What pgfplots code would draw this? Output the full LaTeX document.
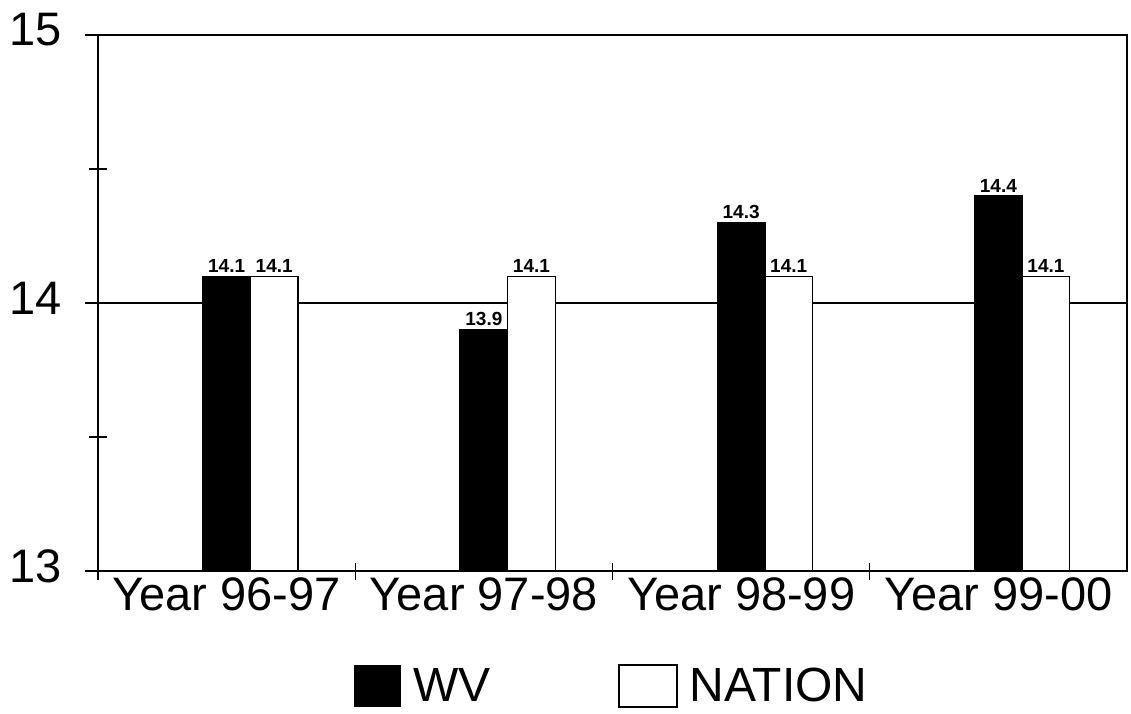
\documentclass[border=0pt]{standalone}
\usepackage{pgfplots}
\pgfplotsset{compat=1.18}
\usepackage{fontspec}
\setmainfont{Liberation Sans}

\begin{document}
\begin{tikzpicture}
\begin{axis}[
  scale only axis, width=514.5pt, height=268pt,
  xmin=-0.5, xmax=3.5, ymin=13, ymax=15,
  ybar, bar width=0.185,
  axis line style={line width=1pt},
  % group separators as small crossing ticks
  xtick={-1},
  minor xtick={-0.5,0.5,1.5,2.5},
  % category names without tick marks
  extra x ticks={0,1,2,3},
  extra x tick labels={Year 96-97, Year 97-98, Year 98-99, Year 99-00},
  extra x tick style={major tick length=0pt, grid=none},
  ytick={13,14,15}, minor ytick={13.5,14.5},
  tick align=center, major tick length=13pt, minor tick length=8.5pt,
  xtick pos=bottom, ytick pos=left,
  ymajorgrids, grid style={black, line width=1pt},
  tick style={black, line width=0.7pt},
  ticklabel style={font=\fontsize{23.5}{24}\selectfont},
  yticklabel style={xshift=-8pt, yshift=2.5pt},
  /pgf/number format/assume math mode=true,
  nodes near coords={\pgfmathprintnumber[fixed,precision=1]{\pgfplotspointmeta}},
  every node near coord/.append style={font=\bfseries\fontsize{9.5}{10}\selectfont, black, inner sep=1.5pt},
  legend columns=2,
  legend style={draw=none, at={(0.5,0)}, anchor=center, yshift=-57.5pt,
    font=\fontsize{24}{24}\selectfont,
    /tikz/every even column/.append style={column sep=62pt},
    /tikz/every odd column/.append style={column sep=4pt}},
]
% WV
\addplot[fill=black, draw=black, line width=0.7pt, bar shift=0,
  legend image code/.code={\draw[fill=black, draw=black] (0pt,-10pt) rectangle (23pt,10pt);}]
  coordinates {(0,14.1) (1,13.9) (2,14.3) (3,14.4)};
% NATION
\addplot[fill=white, draw=black, line width=0.7pt, bar shift=0.185,
  legend image code/.code={\draw[fill=white, draw=black, line width=0.6pt] (0pt,-10.5pt) rectangle (29pt,10.5pt);}]
  coordinates {(0,14.1) (1,14.1) (2,14.1) (3,14.1)};
\legend{WV, NATION}
\end{axis}
\path (current axis.south west) ++(-49pt,-71pt) coordinate (bbsw);
\path (current axis.north east) ++(2pt,17.5pt) coordinate (bbne);
\path (bbsw) rectangle (bbne);
\end{tikzpicture}
\end{document}
